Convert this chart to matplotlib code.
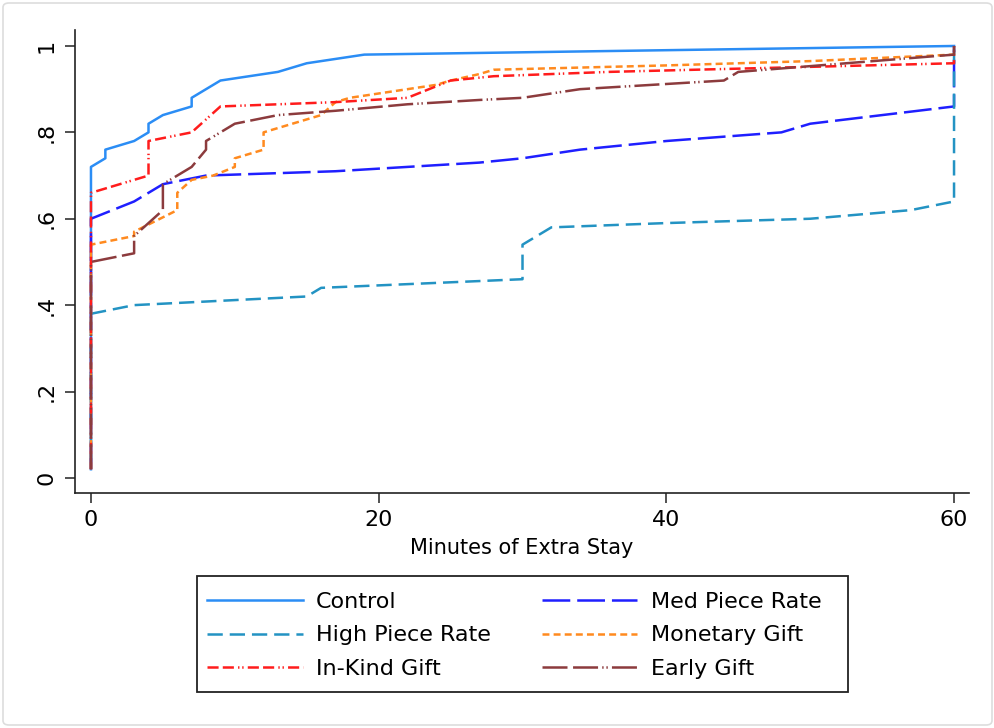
import matplotlib
matplotlib.use("Agg")
import matplotlib.pyplot as plt
from matplotlib.patches import FancyBboxPatch, Rectangle

plt.rcParams['font.family'] = ['DejaVu Sans']
plt.rcParams['lines.scale_dashes'] = False

# Données (distribution cumulée des minutes supplémentaires)
control_x = [0, 0, 1, 1, 3, 4, 4, 5, 7, 7, 9, 13, 15, 19, 60]
control_y = [0.02, 0.72, 0.74, 0.76, 0.78, 0.80, 0.82, 0.84, 0.86, 0.88, 0.92, 0.94, 0.96, 0.98, 1.0]

med_x = [0, 0, 3, 5, 8, 17, 22, 27, 30, 34, 40, 44, 48, 50, 60, 60]
med_y = [0.02, 0.60, 0.64, 0.68, 0.70, 0.71, 0.72, 0.73, 0.74, 0.76, 0.78, 0.79, 0.80, 0.82, 0.86, 1.0]

high_x = [0, 0, 3, 6, 12, 15, 16, 30, 30, 32, 40, 50, 57, 60, 60]
high_y = [0.02, 0.38, 0.40, 0.405, 0.415, 0.42, 0.44, 0.46, 0.54, 0.58, 0.59, 0.60, 0.62, 0.64, 1.0]

monetary_x = [0, 0, 3, 3, 6, 6, 7, 8.5, 10, 10, 12, 12, 16, 17, 18, 22, 24, 25, 27, 28, 40, 50, 60, 60]
monetary_y = [0.02, 0.54, 0.56, 0.57, 0.62, 0.66, 0.69, 0.70, 0.72, 0.74, 0.76, 0.80, 0.84, 0.87, 0.88,
              0.90, 0.91, 0.92, 0.935, 0.945, 0.955, 0.965, 0.98, 1.0]

inkind_x = [0, 0, 4, 4, 7, 9, 17, 22, 25, 28, 36, 48, 60, 60]
inkind_y = [0.02, 0.66, 0.70, 0.78, 0.80, 0.86, 0.87, 0.88, 0.92, 0.93, 0.94, 0.95, 0.96, 1.0]

early_x = [0, 0, 3, 3, 4, 5, 5, 7, 8, 8, 10, 13, 17, 22, 27, 30, 34, 44, 45, 60, 60]
early_y = [0.02, 0.50, 0.52, 0.56, 0.59, 0.62, 0.68, 0.72, 0.76, 0.78, 0.82, 0.84, 0.85, 0.865, 0.875,
           0.88, 0.90, 0.92, 0.94, 0.98, 1.0]

xticks = [0, 20, 40, 60]
yticks = [0, 0.2, 0.4, 0.6, 0.8, 1.0]
ytick_labels = ['0', '.2', '.4', '.6', '.8', '1']

fig = plt.figure(figsize=(9.95, 7.28), dpi=100)
ax = fig.add_axes([75 / 995, 1 - 493 / 728, (969 - 75) / 995, (493 - 30) / 728])

lw = 1.8
l_control, = ax.plot(control_x, control_y, color='#2b8df5', lw=lw, label='Control')
l_med, = ax.plot(med_x, med_y, color='#1f1fff', lw=lw, dashes=(20, 5), label='Med Piece Rate')
l_high, = ax.plot(high_x, high_y, color='#2393c3', lw=lw, dashes=(11, 5), label='High Piece Rate')
l_mon, = ax.plot(monetary_x, monetary_y, color='#ff8a1f', lw=lw, dashes=(5, 3), label='Monetary Gift')
l_ink, = ax.plot(inkind_x, inkind_y, color='#ff1c1c', lw=lw, dashes=(8, 3, 8, 3, 1, 2, 1, 3), label='In-Kind Gift')
l_early, = ax.plot(early_x, early_y, color='#8c3b3d', lw=lw, dashes=(18, 4, 18, 3, 1, 2, 1, 3), label='Early Gift')

ax.set_xlim(-1.11, 61.04)
ax.set_ylim(-0.035, 1.037)
ax.set_xticks(xticks)
ax.set_yticks(yticks)
ax.set_yticklabels(ytick_labels, rotation=90, va='center')

for s in ['top', 'right']:
    ax.spines[s].set_visible(False)
for s in ['left', 'bottom']:
    ax.spines[s].set_linewidth(1.2)
    ax.spines[s].set_color('#222222')
ax.tick_params(axis='both', direction='out', length=7, width=1.1, color='#222222', labelsize=16)
ax.tick_params(axis='y', pad=6)
ax.tick_params(axis='x', pad=5)

ax.set_xlabel('Minutes of Extra Stay', fontsize=15, labelpad=6)

# légende en deux colonnes, ordre ligne par ligne; cadre dessiné à part
handles = [l_control, l_high, l_ink, l_med, l_mon, l_early]
leg = fig.legend(handles=handles, ncol=2, loc='upper left',
                 bbox_to_anchor=(207 / 995, 1 - 592 / 728), borderaxespad=0,
                 fontsize=16, handlelength=4.3, handletextpad=0.6, columnspacing=2.3,
                 labelspacing=0.6, borderpad=0, frameon=False)

fig.patches.append(Rectangle((197 / 995, 1 - 692 / 728), (848 - 197) / 995, (692 - 576) / 728,
                             transform=fig.transFigure, fill=False,
                             edgecolor='#222222', linewidth=1.3))

# cadre extérieur
fig.patches.append(FancyBboxPatch((3 / 995, 3 / 728), 989 / 995, 722 / 728,
                                  boxstyle='round,pad=0,rounding_size=0.006',
                                  transform=fig.transFigure, fill=False,
                                  edgecolor='#dddddd', linewidth=1.2))

fig.savefig('out.png', dpi=100)
